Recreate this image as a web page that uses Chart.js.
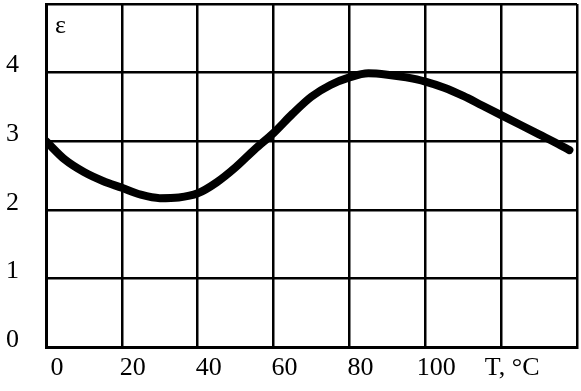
<!DOCTYPE html>
<html>
<head>
<meta charset="utf-8">
<script src="https://cdn.jsdelivr.net/npm/chart.js@4.4.0/dist/chart.umd.min.js"></script>
<style>
    html, body { margin: 0; padding: 0; background: #fff; }
    #wrap { width: 581px; height: 391px; }
</style>
</head>
<body>
<div id="wrap"><canvas id="chart" width="581" height="391"></canvas></div>
<script>
// temperature, deg C
const temps = [0, 5, 10, 15, 20, 25, 30, 35, 40, 45, 50, 55, 60, 65, 70, 75, 80, 85,
    90, 95, 100, 105, 110, 115, 120, 125, 130, 135, 138];
// permittivity
const eps = [3.0, 2.73, 2.55, 2.42, 2.32, 2.22, 2.17, 2.18, 2.24, 2.40, 2.62, 2.88, 3.12,
    3.40, 3.65, 3.82, 3.93, 3.99, 3.97, 3.93, 3.87, 3.78, 3.66, 3.52, 3.38, 3.24, 3.10, 2.96, 2.87];
const xTickLabels = ['0', '20', '40', '60', '80', '100', 'T, °C', ''];
const yTickLabels = ['0', '1', '2', '3', '4', ''];

const FONT = "'Liberation Serif', 'Times New Roman', serif";

const epsLabel = {
    id: 'epsLabel',
    afterDraw(chart) {
        const ctx = chart.ctx;
        ctx.save();
        ctx.font = '26px ' + FONT;
        ctx.fillStyle = '#000';
        ctx.textBaseline = 'alphabetic';
        ctx.fillText('ε', 55, 33);
        ctx.restore();
    }
};

new Chart(document.getElementById('chart').getContext('2d'), {
    type: 'line',
    data: {
        datasets: [{
            data: temps.map((t, i) => ({ x: t, y: eps[i] })),
            borderColor: '#000',
            borderWidth: 8,
            borderCapStyle: 'round',
            borderJoinStyle: 'round',
            pointRadius: 0,
            cubicInterpolationMode: 'monotone',
            fill: false
        }]
    },
    options: {
        responsive: false,
        animation: false,
        layout: { padding: { top: 4, right: 4, left: 0, bottom: 0 } },
        plugins: { legend: { display: false }, tooltip: { enabled: false } },
        scales: {
            x: {
                type: 'linear',
                min: 0,
                max: 140,
                afterFit(scale) {
                    scale.height = 44;
                    scale.paddingLeft = 0;
                    scale.paddingRight = 0;
                },
                border: { display: true, color: '#000', width: 3 },
                grid: { color: '#000', lineWidth: 2.5, drawTicks: false },
                ticks: {
                    stepSize: 20,
                    padding: 6,
                    labelOffset: 11,
                    color: '#000',
                    maxRotation: 0,
                    font: { family: FONT, size: 26 },
                    callback: (v) => xTickLabels[Math.round(v / 20)]
                }
            },
            y: {
                min: 0,
                max: 5,
                afterFit(scale) {
                    scale.width = 46;
                    scale.paddingTop = 0;
                    scale.paddingBottom = 0;
                },
                border: { display: true, color: '#000', width: 3 },
                grid: { color: '#000', lineWidth: 2.5, drawTicks: false },
                ticks: {
                    stepSize: 1,
                    padding: 27,
                    labelOffset: -7,
                    color: '#000',
                    font: { family: FONT, size: 26 },
                    callback: (v) => yTickLabels[v]
                }
            }
        }
    },
    plugins: [epsLabel]
});
</script>
</body>
</html>
